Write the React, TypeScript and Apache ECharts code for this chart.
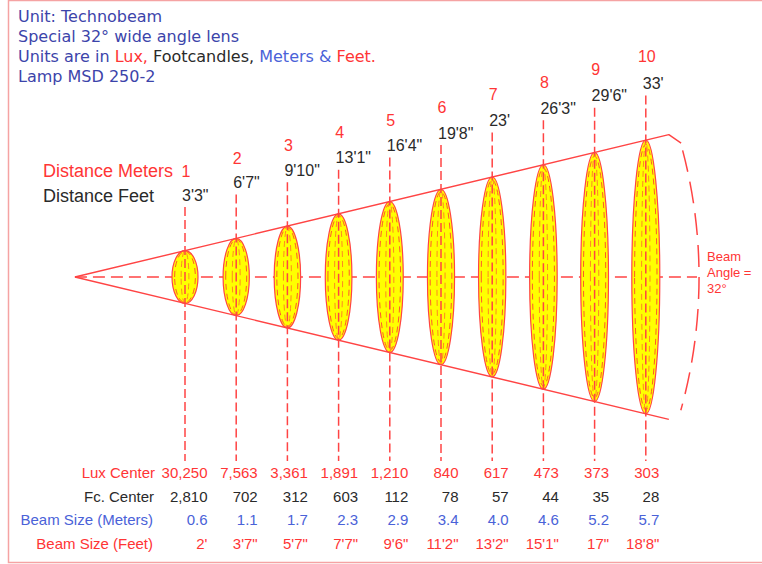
import React, { useEffect, useRef } from "react";
import * as echarts from "echarts";

// ---------- data ----------
const distancesM = [1, 2, 3, 4, 5, 6, 7, 8, 9, 10];
const distancesFt = ["3'3\"", "6'7\"", "9'10\"", "13'1\"", "16'4\"", "19'8\"", "23'", "26'3\"", "29'6\"", "33'"];
const luxCenter = [30250, 7563, 3361, 1891, 1210, 840, 617, 473, 373, 303];
const fcCenter = [2810, 702, 312, 603, 112, 78, 57, 44, 35, 28];
const beamMeters = [0.6, 1.1, 1.7, 2.3, 2.9, 3.4, 4.0, 4.6, 5.2, 5.7];
const beamFeet = ["2'", "3'7\"", "5'7\"", "7'7\"", "9'6\"", "11'2\"", "13'2\"", "15'1\"", "17\"", "18'8\""];
const rowLabels = ["Lux Center", "Fc. Center", "Beam Size (Meters)", "Beam Size (Feet)"];
const headerLine1 = "Unit: Technobeam";
const headerLine2 = "Special 32\u00b0 wide angle lens";
const headerLine3 = ["Units are in ", "Lux, ", "Footcandles, ", "Meters & ", "Feet."];
const headerLine4 = "Lamp MSD 250-2";
const beamAngleLabel = ["Beam", "Angle =", "32\u00b0"];

// ---------- styles / layout ----------
const RED = "#ff3535";
const LINE_RED = "#ff4444";
const DARK = "#2a2a2a";
const NAVY = "#3c44aa";
const BLUE = "#4a62d8";
const YELLOW = "#ffff00";
const LIB = '"Liberation Sans", Arial, sans-serif';
const DJV = '"DejaVu Sans", sans-serif';

const APEX_D = -1.15;
const CONE_END_D = 10.45;
const HOOK_D = 10.69;
const HOOK_H = 2.79;
const CENTER_END_D = 11.0;
const ARC_CENTER_D = 1.35;
const ARC_R_D = 9.69;

const lastIdx = distancesM.length - 1;
const coneHalf = (d: number) =>
  (beamMeters[lastIdx] / 2) * (d - APEX_D) / (distancesM[lastIdx] - APEX_D);

const txt = (
  text: string,
  x: number,
  y: number,
  fill: string,
  size: number,
  family: string,
  align: string = "left"
) => ({
  text,
  x,
  y,
  fill,
  fontSize: size,
  fontFamily: family,
  align,
  textAlign: align,
  verticalAlign: "middle",
  textVerticalAlign: "middle",
});

export default function App() {
  const ref = useRef<HTMLDivElement>(null);

  useEffect(() => {
    if (!ref.current) return;
    const chart = echarts.init(ref.current, undefined, { renderer: "svg" });

    const idxData = distancesM.map((d, i) => [d, beamMeters[i]]);

    const option: any = {
      animation: false,
      backgroundColor: "#ffffff",
      grid: { left: 31.4, right: 13.8, top: 133, bottom: 143 },
      xAxis: { type: "value", min: -2, max: 12, show: false },
      yAxis: { type: "value", min: -3, max: 3, show: false },
      graphic: [
        {
          type: "rect",
          shape: { x: 8.5, y: 0.5, width: 800, height: 562 },
          style: { fill: "none", stroke: "#f5a3a3", lineWidth: 1.5 },
          z: 0,
        },
        { type: "text", style: txt(headerLine1, 18, 16.5, NAVY, 16, DJV) },
        { type: "text", style: txt(headerLine2, 18, 36.5, NAVY, 16, DJV) },
        {
          type: "text",
          style: {
            text:
              "{b|" + headerLine3[0] + "}{r|" + headerLine3[1] + "}{k|" + headerLine3[2] +
              "}{m|" + headerLine3[3] + "}{r|" + headerLine3[4] + "}",
            x: 18,
            y: 56.5,
            verticalAlign: "middle",
            textVerticalAlign: "middle",
            fontSize: 16,
            fontFamily: DJV,
            rich: {
              b: { fill: NAVY, color: NAVY, fontSize: 16, fontFamily: DJV },
              r: { fill: RED, color: RED, fontSize: 16, fontFamily: DJV },
              k: { fill: DARK, color: DARK, fontSize: 16, fontFamily: DJV },
              m: { fill: BLUE, color: BLUE, fontSize: 16, fontFamily: DJV },
            },
          },
        },
        { type: "text", style: txt(headerLine4, 18, 76.5, NAVY, 16, DJV) },
        { type: "text", style: txt("Distance Meters", 43, 171, RED, 18, LIB) },
        { type: "text", style: txt("Distance Feet", 43, 196, DARK, 18, LIB) },
        { type: "text", style: txt(rowLabels[0], 155, 472, RED, 15, LIB, "right") },
        { type: "text", style: txt(rowLabels[1], 154, 496, DARK, 15, LIB, "right") },
        { type: "text", style: txt(rowLabels[2], 153, 519, BLUE, 15, LIB, "right") },
        { type: "text", style: txt(rowLabels[3], 153, 543, RED, 15, LIB, "right") },
        { type: "text", style: txt(beamAngleLabel[0], 707, 256, RED, 13, LIB) },
        { type: "text", style: txt(beamAngleLabel[1], 707, 272, RED, 13, LIB) },
        { type: "text", style: txt(beamAngleLabel[2], 707, 288, RED, 13, LIB) },
      ],
      series: [
        // centre dashed axis
        {
          type: "line",
          data: [[APEX_D, 0], [CENTER_END_D, 0]],
          showSymbol: false,
          silent: true,
          z: 1,
          lineStyle: { color: LINE_RED, width: 1.5, type: [12, 6] },
        },
        // beam-angle arc
        {
          type: "custom",
          data: [[ARC_CENTER_D, 0]],
          silent: true,
          z: 1,
          renderItem: (params: any, api: any) => {
            const c = api.coord([api.value(0), 0]);
            const r = api.coord([api.value(0) + ARC_R_D, 0])[0] - c[0];
            return {
              type: "arc",
              shape: { cx: c[0], cy: c[1], r, startAngle: -0.258, endAngle: 0.272, clockwise: true },
              style: { stroke: LINE_RED, fill: "none", lineWidth: 1.5, lineDash: [22, 10] },
            };
          },
        },
        // ellipses
        {
          type: "custom",
          data: idxData,
          silent: true,
          z: 2,
          renderItem: (params: any, api: any) => {
            const d = api.value(0);
            const c = api.coord([d, 0]);
            const top = api.coord([d, coneHalf(d)]);
            const ry = c[1] - top[1];
            const rx = 13 + (d - 1) / 9;
            return {
              type: "group",
              children: [
                {
                  type: "ellipse",
                  shape: { cx: c[0], cy: c[1], rx, ry },
                  style: { fill: YELLOW, stroke: LINE_RED, lineWidth: 1.2 },
                },
                {
                  type: "ellipse",
                  shape: { cx: c[0], cy: c[1], rx: rx * 0.8, ry: ry * 0.97 },
                  style: { fill: "none", stroke: "#ff5a2a", lineWidth: 1, lineDash: [6, 4] },
                },
                {
                  type: "ellipse",
                  shape: { cx: c[0], cy: c[1], rx: rx * 0.3, ry: ry * 0.99 },
                  style: { fill: "none", stroke: "#ff8a20", lineWidth: 1, lineDash: [6, 4] },
                },
              ],
            };
          },
        },
        // column lines
        {
          type: "custom",
          data: idxData,
          silent: true,
          z: 3,
          renderItem: (params: any, api: any) => {
            const i = params.dataIndex;
            const x = api.coord([api.value(0), 0])[0];
            const fy = 195 - 12.4 * i;
            return {
              type: "line",
              shape: { x1: x, y1: fy + 12, x2: x, y2: 461 },
              style: { stroke: LINE_RED, lineWidth: 1.5, lineDash: [9, 4] },
            };
          },
        },
        // cone lines
        {
          type: "line",
          data: [[APEX_D, 0], [CONE_END_D, coneHalf(CONE_END_D)], [HOOK_D, HOOK_H]],
          showSymbol: false,
          silent: true,
          z: 4,
          lineStyle: { color: LINE_RED, width: 1.4 },
        },
        {
          type: "line",
          data: [[APEX_D, 0], [CONE_END_D, -coneHalf(CONE_END_D)]],
          showSymbol: false,
          silent: true,
          z: 4,
          lineStyle: { color: LINE_RED, width: 1.4 },
        },
        // distance labels
        {
          type: "custom",
          data: idxData,
          silent: true,
          z: 5,
          renderItem: (params: any, api: any) => {
            const i = params.dataIndex;
            const x = api.coord([api.value(0), 0])[0];
            const my = 171 - 12.67 * i;
            const fy = 195 - 12.4 * i;
            return {
              type: "group",
              children: [
                { type: "text", style: txt(String(distancesM[i]), x + 1, my, RED, 16, LIB, "center") },
                { type: "text", style: txt(distancesFt[i], x - 3, fy, DARK, 16, LIB, "left") },
              ],
            };
          },
        },
        // table values
        {
          type: "custom",
          data: idxData,
          silent: true,
          z: 5,
          renderItem: (params: any, api: any) => {
            const i = params.dataIndex;
            const d = api.value(0);
            const x = api.coord([d, 0])[0];
            const r = x + 22.5 - (d - 1);
            return {
              type: "group",
              children: [
                { type: "text", style: txt(luxCenter[i].toLocaleString("en-US"), r, 472, RED, 15, LIB, "right") },
                { type: "text", style: txt(fcCenter[i].toLocaleString("en-US"), r, 496, DARK, 15, LIB, "right") },
                { type: "text", style: txt(beamMeters[i].toFixed(1), r, 519, BLUE, 15, LIB, "right") },
                { type: "text", style: txt(beamFeet[i], r, 543, RED, 15, LIB, "right") },
              ],
            };
          },
        },
      ],
    };

    chart.setOption(option);
    return () => chart.dispose();
  }, []);

  return (
    <div
      ref={ref}
      style={{ position: "fixed", left: 0, top: 0, width: 762, height: 564, background: "#fff" }}
    />
  );
}
